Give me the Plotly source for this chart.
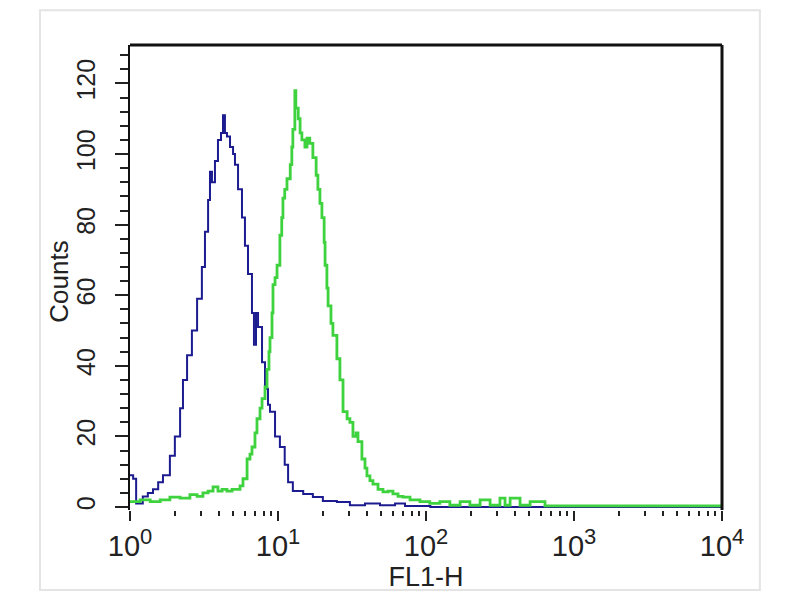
import plotly.graph_objects as go

# FL1-H channel values and counts
blue_x = [1.00, 1.05, 1.10, 1.22, 1.32, 1.43, 1.55, 1.67, 1.86, 2.01, 2.18, 2.28, 2.43, 2.62, 2.84,
          3.06, 3.21, 3.37, 3.47, 3.58, 3.75, 3.93, 4.12, 4.25, 4.38, 4.52, 4.74, 4.97, 5.12, 5.37,
          5.71, 5.98, 6.27, 6.67, 6.88, 7.10, 7.33, 7.80, 8.17, 8.56, 8.83, 9.55, 10.3, 11.1, 11.7,
          12.6, 14.8, 17.2, 20.1, 25.0, 30.6, 38.7, 48.9, 61.8, 72.1, 107, 1000, 10000]
blue_y = [9, 8, 1, 3, 4, 5, 7, 9, 14.5, 20, 28, 36, 43, 50, 59,
          68, 78, 87, 95, 92, 98, 104, 106, 111, 106, 105, 102, 100, 97, 90,
          82, 74, 66, 55, 46, 55, 51, 41, 33.5, 29, 27, 20, 17, 12, 7,
          4.5, 3.7, 2.8, 1.7, 1.4, 0.5, 1, 0.5, 1, 0.3, 0, 0, 0]

green_x = [1.00, 1.17, 1.37, 1.60, 1.86, 2.18, 2.54, 2.84, 3.11, 3.37, 3.64, 3.93, 4.19, 4.52, 4.89,
           5.28, 5.54, 5.80, 6.18, 6.47, 6.67, 6.99, 7.21, 7.56, 7.80, 8.17, 8.43, 8.69, 8.83, 9.11,
           9.25, 9.55, 9.85, 10.3, 10.6, 10.8, 11.1, 11.5, 12.1, 12.4, 12.6, 13.0, 13.2, 13.7, 14.1,
           14.5, 15.2, 15.7, 16.4, 17.2, 18.1, 18.6, 19.2, 19.8, 20.5, 20.8, 21.4, 21.8, 22.8, 23.5,
           25.0, 26.2, 27.5, 29.3, 30.6, 32.1, 33.7, 34.7, 36.9, 38.7, 39.9, 41.8, 43.8, 47.4, 51.2,
           55.4, 59.8, 64.7, 69.9, 78.0, 91.0, 106, 124, 145, 170, 198, 232, 271, 316, 342,
           370, 432, 505, 637, 10000]
green_y = [1.5, 2, 1.5, 2, 2.8, 2.5, 3.5, 3, 4, 4.5, 5.7, 4.5, 5, 4.5, 5,
           5, 6, 8, 13.6, 15, 17, 21, 25, 28, 30.7, 34, 39, 44, 48, 55,
           63, 65, 68.5, 77, 82, 87.5, 90, 93, 97, 102, 107, 118, 113, 110, 106,
           104, 102, 104.5, 103, 99, 94, 90, 86, 82, 75, 68.5, 62, 57, 52, 48.6,
           42, 36, 27, 25, 24, 20, 21, 18.5, 13.6, 11, 8.8, 7.5, 6.5, 5, 4.3,
           4.5, 3.7, 3, 2.8, 2, 1.5, 1, 1.5, 0.5, 1.5, 0.5, 2, 0.5, 2.5, 0.5,
           2.5, 0.5, 1.5, 0.3, 0.3]

x_tickvals = [1, 10, 100, 1000, 10000]
x_exponents = ["0", "1", "2", "3", "4"]
x_ticktext = ["10<sup><span style='font-size:22px'>%s</span></sup>" % e for e in x_exponents]
y_tickvals = [0, 20, 40, 60, 80, 100, 120]
x_minor = [m * 10 ** d for d in range(4) for m in range(2, 10)]

fig = go.Figure()
fig.add_trace(go.Scatter(x=blue_x, y=blue_y, mode="lines", line_shape="hv",
                         line=dict(color="#1c1c90", width=2), showlegend=False))
fig.add_trace(go.Scatter(x=green_x, y=green_y, mode="lines", line_shape="hv",
                         line=dict(color="#3fd23f", width=2.8), showlegend=False))

fig.update_layout(
    width=784, height=584,
    margin=dict(l=122, r=70, t=37, b=82, autoexpand=False),
    paper_bgcolor="white", plot_bgcolor="white",
    font=dict(family="Liberation Sans, Arial, sans-serif", color="#222"),
    xaxis=dict(type="log", range=[0, 4], tickvals=x_tickvals, ticktext=x_ticktext,
               showgrid=False, zeroline=False, showline=False, automargin=False,
               ticks="outside", ticklen=10, tickwidth=2, tickcolor="#222",
               minor=dict(tickvals=x_minor, ticks="outside", ticklen=5, tickwidth=2,
                          tickcolor="#222", showgrid=False),
               tickfont=dict(size=29),
               title=dict(text="FL1-H", font=dict(size=27), standoff=2)),
    yaxis=dict(range=[-0.85, 130.9], tickvals=y_tickvals, tickangle=-90,
               showgrid=False, zeroline=False, showline=True, linecolor="#111", linewidth=2,
               automargin=False,
               ticks="outside", ticklen=13, tickwidth=2, tickcolor="#222",
               minor=dict(dtick=4, ticks="outside", ticklen=8, tickwidth=2, tickcolor="#222",
                          showgrid=False),
               tickfont=dict(size=25), ticklabelstandoff=10),
    annotations=[
        dict(text="Counts", xref="paper", yref="paper", x=-0.119, y=0.49,
             textangle=-90, showarrow=False, font=dict(size=26),
             xanchor="center", yanchor="middle"),
    ],
    shapes=[
        dict(type="line", xref="paper", yref="paper", x0=0, x1=1, y0=1, y1=1,
             line=dict(color="#111", width=3)),
        dict(type="line", xref="paper", yref="paper", x0=1, x1=1, y0=0, y1=1,
             line=dict(color="#111", width=3)),
        dict(type="rect", xref="paper", yref="paper", x0=-0.152, x1=1.064, y0=-0.172, y1=1.075,
             line=dict(color="#e4e4e4", width=2), layer="below"),
    ],
)

fig.write_html("out.html")
